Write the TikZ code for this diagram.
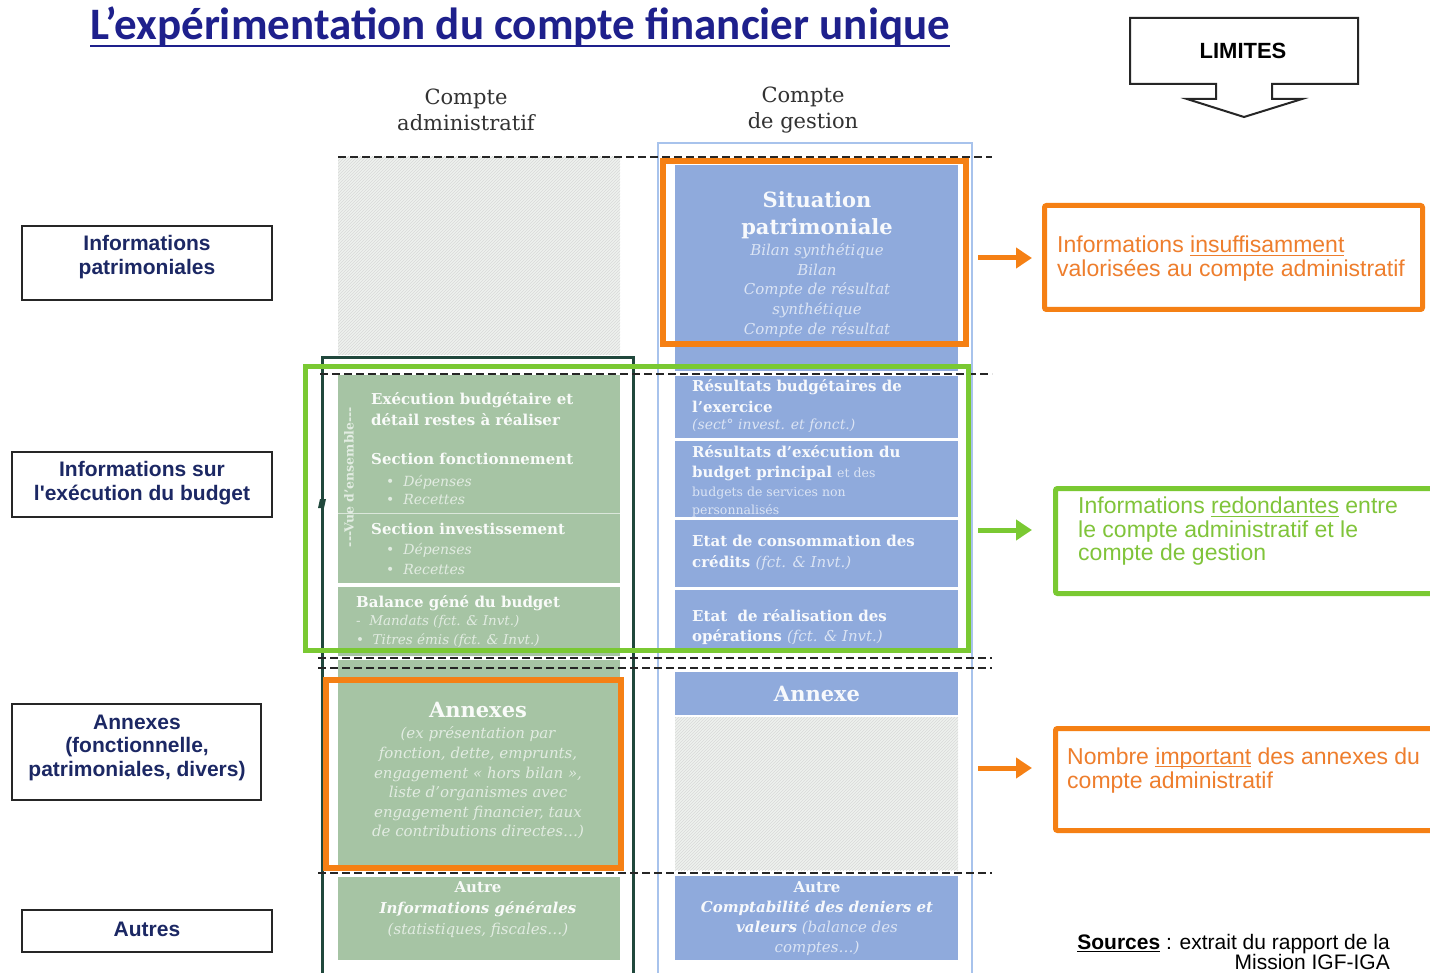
\documentclass[tikz,border=0pt]{standalone}
\usepackage{fontspec}
\setmainfont{DejaVu Serif}
\newfontfamily\labfont{Liberation Sans}
\newfontfamily\titfont{Carlito}
\usetikzlibrary{patterns,arrows.meta}
\definecolor{navy}{RGB}{30,32,140}
\definecolor{labblue}{RGB}{28,40,100}
\definecolor{sage}{RGB}{166,196,164}
\definecolor{bluefill}{RGB}{143,170,220}
\definecolor{bluel}{RGB}{168,195,236}
\definecolor{dkgreen}{RGB}{32,72,60}
\definecolor{lime}{RGB}{122,201,50}
\definecolor{orng}{RGB}{245,128,20}
\definecolor{otext}{RGB}{238,126,45}
\definecolor{gtext}{RGB}{128,196,58}
\definecolor{hatchbg}{RGB}{238,242,238}
\definecolor{hdgray}{RGB}{50,50,50}
\colorlet{gw}{white!93!sage}
\colorlet{gl}{white!68!sage}
\colorlet{bw}{white!93!bluefill}
\colorlet{bl}{white!68!bluefill}
\newcommand\fsz[2]{\fontsize{#1}{#2}\selectfont}
\newsavebox\ulbox
\newcommand\myul[1]{\sbox\ulbox{#1}\rlap{\usebox\ulbox}\rule[-3pt]{\wd\ulbox}{1.3pt}}
\begin{document}
\begin{tikzpicture}[x=1pt,y=-1pt,
  lab/.style={text=labblue,font=\labfont\bfseries\fsz{21}{23.5},align=center,inner sep=0},
  lframe/.style={draw=black!85,line width=1.3pt,inner sep=0},
  dashln/.style={draw=black!85,line width=2.2pt,dash pattern=on 8pt off 4pt},
  gtxt/.style={text=gw,inner sep=0},
  btxt/.style={text=bw,inner sep=0},
  notebox/.style={line width=5pt,rounded corners=2pt,inner sep=0},
  notetxt/.style={font=\labfont\fsz{23}{24},align=left,anchor=west,inner sep=0},
  arr/.style={line width=5pt,-{Triangle[length=16pt,width=20pt]}},
  hdr/.style={text=hdgray,font=\fsz{21}{26},align=center,inner sep=0}]
\useasboundingbox (0,0) rectangle (1430,973);
\fill[white] (0,0) rectangle (1430,973);

% title
\node[font=\titfont\bfseries\fsz{45}{50},text=navy,anchor=base west,inner sep=0] (title) at (90,40) {L’expérimentation du compte financier unique};
\draw[navy,line width=2pt] ([yshift=-6pt]title.base west) -- ([yshift=-6pt]title.base east);

% LIMITES
\draw[black!85,line width=2pt,fill=white] (1130,18) -- (1358,18) -- (1358,84) -- (1272,84) -- (1272,99) -- (1302,99) -- (1244,117) -- (1187,99) -- (1216,99) -- (1216,84) -- (1130,84) -- cycle;
\node[font=\labfont\bfseries\fsz{22}{24},inner sep=0] (limites) at (1243,51) {LIMITES};

% column headers
\node[hdr] (hca) at (466,110) {Compte\\administratif};
\node[hdr] (hcg) at (803,110) {Compte\\de gestion};

% hatched areas
\fill[hatchbg] (338,157) rectangle (620,355);
\fill[pattern=north east lines,pattern color=gray!30] (338,157) rectangle (620,355);
\fill[hatchbg] (675,717) rectangle (958,870);
\fill[pattern=north east lines,pattern color=gray!30] (675,717) rectangle (958,870);

% right column outline
\draw[bluel,line width=2pt] (658,980) -- (658,143) -- (972,143) -- (972,980);

% blue boxes
\fill[bluefill] (675,165) rectangle (958,371);
\fill[bluefill] (675,376) rectangle (958,438);
\fill[bluefill] (675,441) rectangle (958,517);
\fill[bluefill] (675,520) rectangle (958,587);
\fill[bluefill] (675,590) rectangle (958,652);
\fill[bluefill] (675,672) rectangle (958,715);
\fill[bluefill] (675,876) rectangle (958,960);

% green boxes
\fill[sage] (338,375) rectangle (620,583);
\draw[white!60!sage,line width=1pt] (338,513) -- (620,513);
\fill[sage] (338,587) rectangle (620,656);
\fill[sage] (338,660) rectangle (620,678);
\fill[sage] (338,683) rectangle (620,866);
\fill[sage] (338,877) rectangle (620,960);

% left column outline
\draw[dkgreen,line width=3pt] (322,980) -- (322,358) -- (633,358) -- (633,980);
\fill[dkgreen] (320,499) -- (326,499) -- (324,508) -- (318,508) -- cycle;

% dashed lines
\draw[dashln] (338,157) -- (992,157);
\draw[dashln] (320,374) -- (992,374);
\draw[dashln] (318,658) -- (992,658);
\draw[dashln] (318,668) -- (992,668);
\draw[dashln] (318,873) -- (992,873);

% ---- right column texts
\node[btxt,font=\bfseries\fsz{21}{27},align=center] (sit1) at (817,215) {Situation\\patrimoniale};
\node[btxt,text=bl,font=\itshape\fsz{15}{19.75},align=center] (sit2) at (817,290.5) {Bilan synthétique\\Bilan\\Compte de résultat\\synthétique\\Compte de résultat};

\node[btxt,font=\bfseries\fsz{15}{21},align=left,anchor=west] (rb1) at (692,396.5) {Résultats budgétaires de\\l'exercice};
\node[btxt,text=bl,font=\itshape\fsz{14}{18},anchor=west] (rb2) at (692,426) {(sect° invest. et fonct.)};

\node[btxt,font=\bfseries\fsz{15}{20},align=left,anchor=west] (re1) at (692,463) {Résultats d'exécution du\\budget principal {\mdseries\fsz{12.5}{20}\color{bl} et des}};
\node[btxt,text=bl,font=\fsz{12.5}{18},align=left,anchor=west] (re2) at (692,502) {budgets de services non\\personnalisés};

\node[btxt,font=\bfseries\fsz{15}{21},align=left,anchor=west] (ec) at (692,552.5) {Etat de consommation des\\crédits {\mdseries\itshape\color{bl}(fct. \& Invt.)}};
\node[btxt,font=\bfseries\fsz{15}{20},align=left,anchor=west] (er) at (692,627) {Etat \ de réalisation des\\opérations {\mdseries\itshape\color{bl}(fct. \& Invt.)}};

\node[btxt,font=\bfseries\fsz{21}{24}] (annr) at (817,694) {Annexe};

\node[btxt,font=\fsz{15}{20},align=center] (autr) at (817,919) {{\bfseries Autre}\\{\bfseries\itshape Comptabilité des deniers et}\\{\bfseries\itshape valeurs} {\itshape\color{bl}(balance des}\\{\itshape\color{bl}comptes…)}};

% ---- left column texts
\node[gtxt,font=\bfseries\fsz{12.5}{14},rotate=90,text=gl] (vue) at (349,477) {{-}{-}{-}Vue d'ensemble{-}{-}{-}};
\node[gtxt,font=\bfseries\fsz{15}{21},align=left,anchor=west] (ex1) at (371,409.5) {Exécution budgétaire et\\détail restes à réaliser};
\node[gtxt,font=\bfseries\fsz{15}{21},anchor=west] (sf1) at (371,459) {Section fonctionnement};
\node[gtxt,text=gl,font=\itshape\fsz{14}{18.5},align=left,anchor=west] (sf2) at (386,490) {•\ \ Dépenses\\•\ \ Recettes};
\node[gtxt,font=\bfseries\fsz{15}{21},anchor=west] (si1) at (371,529) {Section investissement};
\node[gtxt,text=gl,font=\itshape\fsz{14}{20},align=left,anchor=west] (si2) at (386,559) {•\ \ Dépenses\\•\ \ Recettes};
\node[gtxt,font=\bfseries\fsz{15}{21},anchor=west] (bal1) at (356,603) {Balance géné du budget};
\node[gtxt,text=gl,font=\itshape\fsz{13.5}{19},align=left,anchor=west] (bal2) at (356,631.5) {-\ \ Mandats (fct. \& Invt.)\\•\ \ Titres émis (fct. \& Invt.)};

\node[gtxt,font=\bfseries\fsz{21}{24}] (annl1) at (478,710) {Annexes};
\node[gtxt,text=gl,font=\itshape\fsz{15}{19.6},align=center] (annl2) at (478,783) {(ex présentation par\\fonction, dette, emprunts,\\engagement « hors bilan »,\\liste d'organismes avec\\engagement financier, taux\\de contributions directes…)};

\node[gtxt,font=\fsz{15}{21},align=center] (autl) at (478,910) {{\bfseries Autre}\\{\bfseries\itshape Informations générales}\\{\itshape\color{gl}(statistiques, fiscales…)}};

% highlight frames
\draw[lime,line width=5pt] (305,367) rectangle (968,650);
\draw[orng,line width=5.5pt] (663,161) rectangle (966,344);
\draw[orng,line width=6pt] (326,680) rectangle (621,868);

% ---- left labels
\node[lframe,minimum width=250pt,minimum height=74pt] (l1box) at (147,263) {};
\node[lab] (l1) at (147,257) {Informations\\patrimoniales};
\node[lframe,minimum width=260pt,minimum height=65pt] (l2box) at (142,484.5) {};
\node[lab] (l2) at (142,483) {Informations sur\\l'exécution du budget};
\node[lframe,minimum width=249pt,minimum height=96pt] (l3box) at (136.5,752) {};
\node[lab] (l3) at (137,747.5) {Annexes\\(fonctionnelle,\\patrimoniales, divers)};
\node[lframe,minimum width=250pt,minimum height=42pt] (l4box) at (147,931) {};
\node[lab] (l4) at (147,929) {Autres};

% ---- notes
\node[notebox,draw=orng,minimum width=378pt,minimum height=104pt] (n1) at (1233.5,257.5) {};
\node[notetxt,text=otext] (n1t) at (1057,259) {Informations \myul{insuffisamment}\\valorisées au compte administratif};
\node[notebox,draw=lime,minimum width=378pt,minimum height=105pt] (n2) at (1244.5,541) {};
\node[notetxt,text=gtext,font=\labfont\fsz{23}{23.5}] (n2t) at (1078,531.5) {Informations \myul{redondantes} entre\\le compte administratif et le\\compte de gestion};
\node[notebox,draw=orng,minimum width=378pt,minimum height=102pt] (n3) at (1244.5,779.5) {};
\node[notetxt,text=otext] (n3t) at (1067,770.5) {Nombre \myul{important} des annexes du\\compte administratif};

% arrows
\coordinate (a1s) at (978,258);
\coordinate (a2s) at (978,530);
\coordinate (a3s) at (978,768);
\draw[arr,orng,shorten >=10pt] (a1s) -- (n1.west |- a1s);
\draw[arr,lime,shorten >=21pt] (a2s) -- (n2.west |- a2s);
\draw[arr,orng,shorten >=21pt] (a3s) -- (n3.west |- a3s);

% sources
\node[font=\labfont\fsz{21}{17},align=right,anchor=east,inner sep=0] (src) at (1390,952) {\myul{\bfseries Sources} : extrait du rapport de la\\Mission IGF-IGA};
\end{tikzpicture}
\end{document}
